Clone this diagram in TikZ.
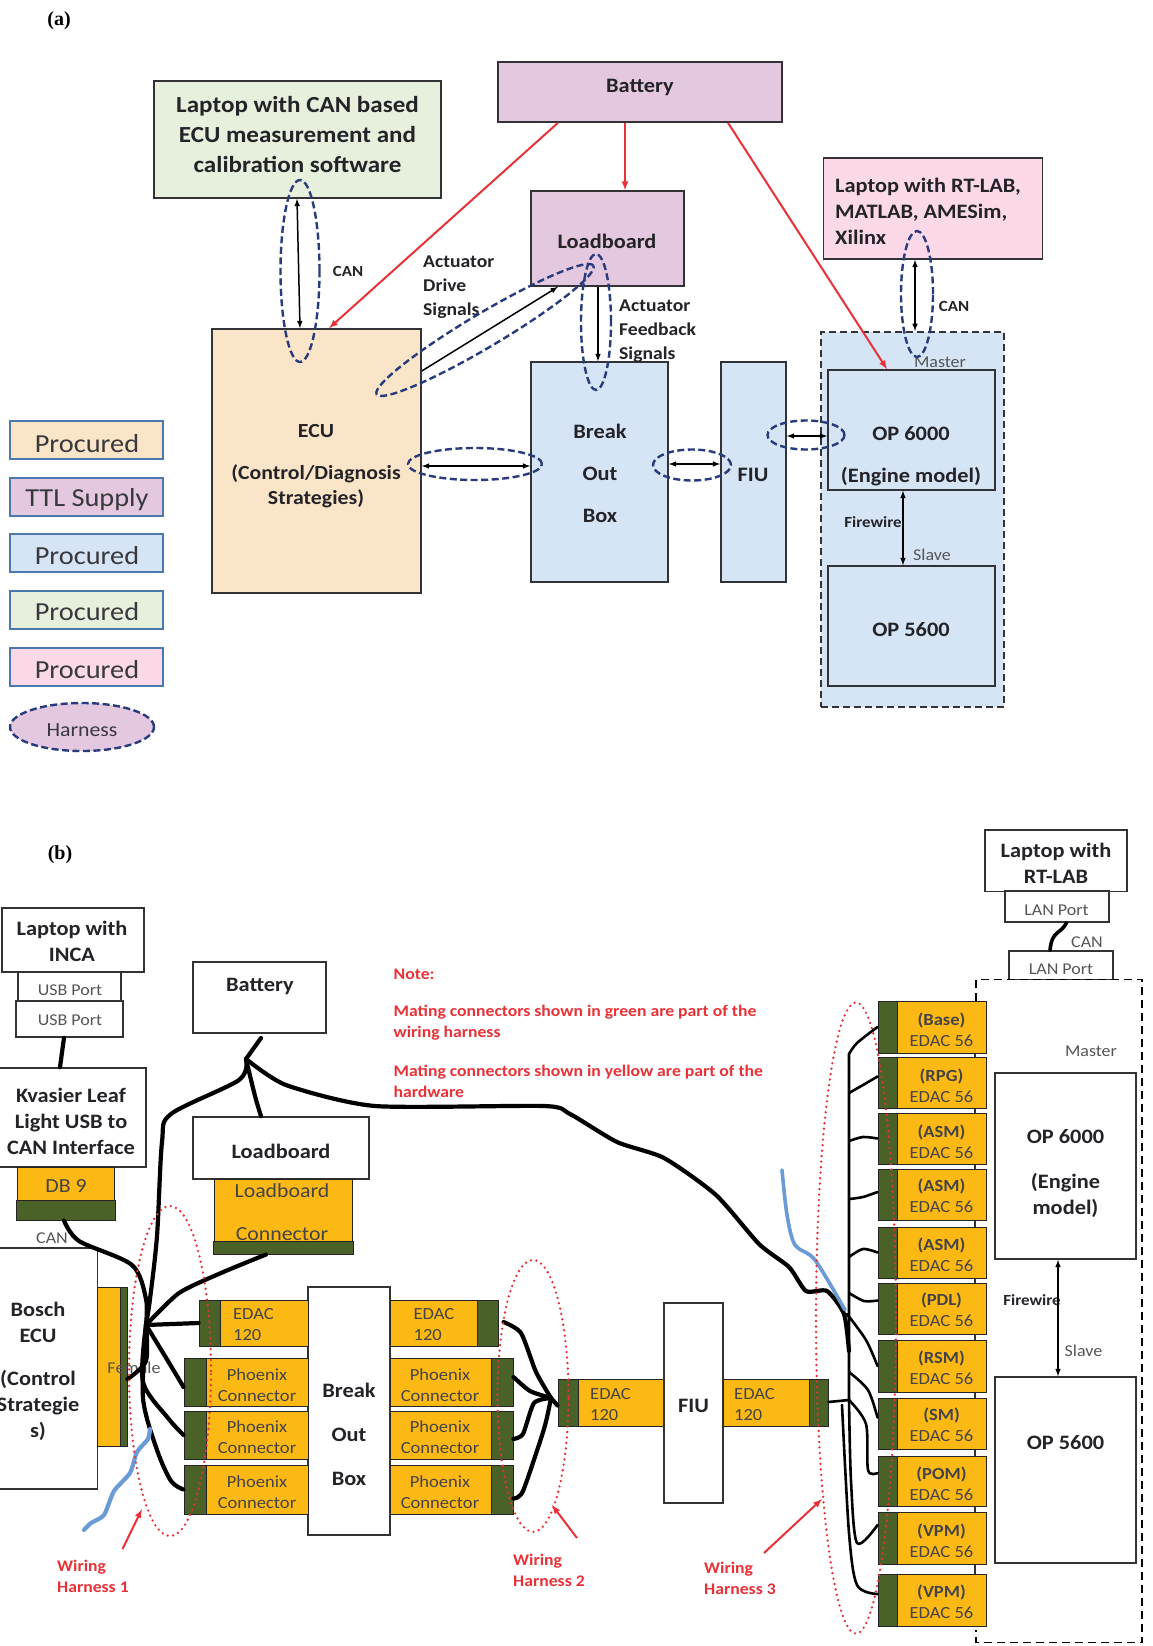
\documentclass[tikz,border=0pt]{standalone}
\usepackage{fontspec}
\setmainfont{Carlito}[FakeStretch=1.09]
\newfontfamily\headfont{Liberation Serif}
\usetikzlibrary{shapes.geometric}
\definecolor{ink}{RGB}{35, 35, 40}
\definecolor{greyink}{RGB}{85, 85, 85}
\definecolor{frame}{RGB}{50, 50, 55}
\definecolor{legframe}{RGB}{75, 120, 175}
\definecolor{orangefill}{RGB}{251, 229, 200}
\definecolor{purplefill}{RGB}{228, 200, 224}
\definecolor{bluefill}{RGB}{213, 229, 245}
\definecolor{greenfill}{RGB}{230, 240, 220}
\definecolor{pinkfill}{RGB}{251, 217, 232}
\definecolor{harnessblue}{RGB}{40, 60, 125}
\definecolor{redline}{RGB}{232, 50, 55}
\definecolor{connyellow}{RGB}{253, 185, 19}
\definecolor{conngreen}{RGB}{74, 97, 39}
\definecolor{bluewire}{RGB}{105, 155, 215}
\tikzset{
  box/.style={draw=frame,line width=1.6pt,inner sep=0pt,align=center},
  legbox/.style={draw=legframe,line width=2pt,inner sep=0pt,minimum width=153,minimum height=38},
  sig/.style={black,line width=1.5pt,<->,>=latex},
  sigone/.style={black,line width=1.5pt,->,>=latex},
  powerline/.style={redline,line width=2pt,->,>=latex},
  harness/.style={draw=harnessblue,line width=2.4pt,dash pattern=on 7pt off 3.5pt,ellipse,inner sep=0pt},
  dotted harness/.style={draw=redline,line width=2.6pt,line cap=round,dash pattern=on 0pt off 5.5pt,ellipse,inner sep=0pt},
  bigbold/.style={inner sep=0pt,align=center,text=ink,font=\bfseries\fontsize{23}{30}\selectfont},
  bold/.style={inner sep=0pt,align=center,text=ink,font=\bfseries\fontsize{20.5}{26}\selectfont},
  smallbold/.style={inner sep=0pt,align=left,text=ink,font=\bfseries\fontsize{18}{24}\selectfont},
  tinybold/.style={inner sep=0pt,text=ink,font=\bfseries\fontsize{15.5}{20}\selectfont},
  plainbig/.style={inner sep=0pt,text=ink!90!white,font=\fontsize{26}{30}\selectfont},
  grey/.style={inner sep=0pt,text=greyink,font=\fontsize{16.5}{21}\selectfont},
  rowtxt/.style={inner sep=0pt,align=center,text=ink!85!white,font=\fontsize{17}{21}\selectfont},
  edactxt/.style={inner sep=0pt,align=left,anchor=west,text=ink!85!white,font=\fontsize{17}{21}\selectfont},
  notetxt/.style={inner sep=0pt,anchor=west,align=left,text=redline,font=\bfseries\fontsize{16.2}{21}\selectfont},
  yel/.style={draw=ink,line width=1pt,fill=connyellow,inner sep=0pt},
  grn/.style={draw=ink,line width=1pt,fill=conngreen,inner sep=0pt},
  wire/.style={black,line width=4.2pt,line join=round,line cap=round},
  thinwire/.style={black,line width=2.6pt,line join=round,line cap=round},
}
\begin{document}
\begin{tikzpicture}[x=1pt,y=-1pt]
\useasboundingbox (0,0) rectangle (1152,1646);
\fill[white] (0,0) rectangle (1152,1646);
\node[font=\headfont\bfseries\fontsize{20}{24}\selectfont] (parta) at (59,21) {(a)};
\node[box,fill=greenfill,minimum width=287,minimum height=117] (lapg) at (297.5,139.5) {};
\node[bigbold] (lapgt) at (297.5,135) {Laptop with CAN based\\ECU measurement and\\calibration software};
\node[box,fill=purplefill,minimum width=284,minimum height=60] (batta) at (640,92) {};
\node[bold] (battat) at (640,87) {Battery};
\node[box,fill=purplefill,minimum width=153,minimum height=95] (loada) at (607.5,238.5) {};
\node[bold] (loadat) at (607,241) {Loadboard};
\node[box,fill=orangefill,minimum width=209,minimum height=264] (ecua) at (316.5,461) {};
\node[bold,font=\bfseries\fontsize{20}{25}\selectfont] (ecuat) at (316,466) {ECU\\[17pt](Control/Diagnosis\\Strategies)};
\node[box,fill=bluefill,minimum width=137,minimum height=220] (boba) at (599.5,472) {};
\node[bold] (bobat) at (600,473) {Break\\[16pt]Out\\[16pt]Box};
\node[box,fill=bluefill,minimum width=65,minimum height=220] (fiua) at (753.5,472) {};
\node[bold] (fiuat) at (753,475) {FIU};
\node[box,fill=bluefill,dash pattern=on 7pt off 4pt,line width=2pt,minimum width=183,minimum height=375] (dasha) at (912.5,519.5) {};
\node[box,fill=bluefill,minimum width=167,minimum height=120] (op6a) at (911.5,430) {};
\node[bold] (op6at) at (911,456) {OP 6000\\[16pt](Engine model)};
\node[box,fill=bluefill,minimum width=167,minimum height=120] (op5a) at (911.5,626) {};
\node[bold] (op5at) at (911,630) {OP 5600};
\node[box,fill=pinkfill,minimum width=219,minimum height=101] (lapp) at (933,208.5) {};
\node[bold,align=left,anchor=west] (lappt) at (835,211) {Laptop with RT-LAB,\\MATLAB, AMESim,\\Xilinx};
\node[tinybold] (cana) at (348,271) {CAN};
\node[tinybold] (canb) at (954,306) {CAN};
\node[tinybold] (firea) at (873,522) {Firewire};
\node[grey] (mastera) at (940,362) {Master};
\node[grey] (slavea) at (932,555) {Slave};
\node[smallbold,anchor=west] (drivet) at (423,287) {Actuator\\Drive\\Signals};
\node[smallbold,anchor=west] (feedt) at (619,331) {Actuator\\Feedback\\Signals};
\draw[powerline] ([xshift=-82]batta.south) -- ([xshift=12.5]ecua.north);
\draw[powerline] ([xshift=-15]batta.south) -- ([xshift=17.5]loada.north);
\draw[powerline] ([xshift=88]batta.south) -- ([xshift=-24.5]op6a.north);
\draw[sig] ([xshift=-0.5]lapg.south) -- ([xshift=-16.5]ecua.north);
\draw[sigone] ([yshift=90]ecua.east) -- ([xshift=-49.5]loada.south);
\draw[sigone] ([xshift=-9.5]loada.south) -- ([xshift=-1.5]boba.north);
\draw[sig] ([yshift=-5]ecua.east) -- ([yshift=6]boba.west);
\draw[sig] ([yshift=8]boba.east) -- ([yshift=8]fiua.west);
\draw[sig] ([yshift=36]fiua.east) -- ([yshift=-6]op6a.west);
\draw[sig] ([xshift=-8.5]op6a.south) -- ([xshift=-8.5]op5a.north);
\draw[sig] ([xshift=-18]lapp.south) -- ([xshift=2.5]dasha.north);
\node[harness,minimum width=39,minimum height=182] (hcan) at (300,271) {};
\node[harness,minimum width=252,minimum height=34,rotate=30.7] (hdrive) at (485,330) {};
\node[harness,minimum width=30,minimum height=136] (hfeed) at (596,322) {};
\node[harness,minimum width=134,minimum height=32] (hecu) at (475,464) {};
\node[harness,minimum width=78,minimum height=31] (hbob) at (692,465) {};
\node[harness,minimum width=77,minimum height=29] (hfiu) at (806,435) {};
\node[harness,minimum width=32,minimum height=126] (hlap) at (917,294) {};
\node[legbox,fill=orangefill] (leg1) at (86.5,439.5) {};
\node[plainbig] (leg1t) at (87,444) {Procured};
\node[legbox,fill=purplefill] (leg2) at (86.5,496.5) {};
\node[plainbig] (leg2t) at (87,500) {TTL Supply};
\node[legbox,fill=bluefill] (leg3) at (86.5,552.5) {};
\node[plainbig] (leg3t) at (87,556) {Procured};
\node[legbox,fill=greenfill] (leg4) at (86.5,609.5) {};
\node[plainbig] (leg4t) at (87,612) {Procured};
\node[legbox,fill=pinkfill] (leg5) at (86.5,666.5) {};
\node[plainbig] (leg5t) at (87,670) {Procured};
\node[harness,fill=purplefill,minimum width=144,minimum height=48] (leg6) at (82,727) {};
\node[inner sep=0pt,text=ink!90!white,font=\fontsize{20}{24}\selectfont] (leg6t) at (82,730) {Harness};
\node[font=\headfont\bfseries\fontsize{20}{24}\selectfont] (partb) at (60,855) {(b)};
\node[box,minimum width=142,minimum height=64] (lapi) at (73,940) {};
\node[bold] (lapit) at (72,941) {Laptop with\\INCA};
\node[box,minimum width=103,minimum height=29] (usba) at (69.5,986.5) {};
\node[grey] (usbat) at (70,990) {USB Port};
\node[box,minimum width=107,minimum height=36] (usbb) at (69.5,1019) {};
\node[grey] (usbbt) at (70,1020) {USB Port};
\node[box,minimum width=148,minimum height=99] (kva) at (72,1117.5) {};
\node[bold] (kvat) at (71,1121) {Kvasier Leaf\\Light USB to\\CAN Interface};
\node[yel,minimum width=97,minimum height=33] (dby) at (65.5,1183.5) {};
\node[rowtxt,font=\fontsize{20}{24}\selectfont] (dbt) at (66,1186) {DB 9};
\node[grn,minimum width=99,minimum height=20] (dbg) at (65.5,1210) {};
\node[grey] (canc) at (52,1238) {CAN};
\node[box,minimum width=99.5,minimum height=241] (bosch) at (47.75,1368.5) {};
\node[bold] (boscht) at (38,1371.5) {Bosch\\ECU\\[17pt](Control\\Strategie\\s)};
\node[yel,minimum width=22.5,minimum height=159] (femy) at (108.75,1366.5) {};
\node[grn,minimum width=7,minimum height=159] (femg) at (123.5,1366.5) {};
\node[grey] (femt) at (134,1368) {Female};
\node[box,minimum width=133,minimum height=71] (batb) at (259.5,997.5) {};
\node[bold] (batbt) at (260,986) {Battery};
\node[box,minimum width=176,minimum height=62] (loadb) at (281,1148) {};
\node[bold] (loadbt) at (281,1151) {Loadboard};
\node[yel,minimum width=138,minimum height=62] (lcony) at (283,1210) {};
\node[grn,minimum width=140,minimum height=13] (lcong) at (283,1247.5) {};
\node[rowtxt,font=\fontsize{20}{24}\selectfont] (lcont) at (282,1212.5) {Loadboard\\[19pt]Connector};
\node[box,minimum width=82,minimum height=248] (bobb) at (349,1411) {};
\node[bold] (bobbt) at (349,1434) {Break\\[18pt]Out\\[18pt]Box};
\node[grn,minimum width=21,minimum height=46] (el1g) at (209.5,1323) {};
\node[yel,minimum width=88,minimum height=46] (el1) at (264,1323) {};
\node[edactxt] (el1t) at (233,1324.5) {EDAC\\120};
\node[yel,minimum width=87,minimum height=46] (er1) at (433.5,1323) {};
\node[grn,minimum width=21,minimum height=46] (er1g) at (487.5,1323) {};
\node[edactxt] (er1t) at (413.5,1324.5) {EDAC\\120};
\node[grn,minimum width=22,minimum height=48] (pl1g) at (195,1382) {};
\node[yel,minimum width=102,minimum height=48] (pl1) at (257,1382) {};
\node[rowtxt] (pl1t) at (257,1385) {Phoenix\\Connector};
\node[grn,minimum width=22,minimum height=48] (pl2g) at (195,1435) {};
\node[yel,minimum width=102,minimum height=48] (pl2) at (257,1435) {};
\node[rowtxt] (pl2t) at (257,1437.5) {Phoenix\\Connector};
\node[grn,minimum width=22,minimum height=49] (pl3g) at (195,1489.5) {};
\node[yel,minimum width=102,minimum height=49] (pl3) at (257,1489.5) {};
\node[rowtxt] (pl3t) at (257,1492.5) {Phoenix\\Connector};
\node[yel,minimum width=101,minimum height=48] (pr1) at (440.5,1382) {};
\node[grn,minimum width=22,minimum height=48] (pr1g) at (502,1382) {};
\node[rowtxt] (pr1t) at (440,1385) {Phoenix\\Connector};
\node[yel,minimum width=101,minimum height=48] (pr2) at (440.5,1435) {};
\node[grn,minimum width=22,minimum height=48] (pr2g) at (502,1435) {};
\node[rowtxt] (pr2t) at (440,1437.5) {Phoenix\\Connector};
\node[yel,minimum width=101,minimum height=49] (pr3) at (440.5,1489.5) {};
\node[grn,minimum width=22,minimum height=49] (pr3g) at (502,1489.5) {};
\node[rowtxt] (pr3t) at (440,1492.5) {Phoenix\\Connector};
\node[grn,minimum width=20,minimum height=47] (em1g) at (568,1402.5) {};
\node[yel,minimum width=86,minimum height=47] (em1) at (621,1402.5) {};
\node[edactxt] (em1t) at (590,1405) {EDAC\\120};
\node[box,minimum width=59,minimum height=200] (fiub) at (693.5,1403) {};
\node[bold] (fiubt) at (693.5,1405.5) {FIU};
\node[yel,minimum width=86,minimum height=47] (em2) at (766,1402.5) {};
\node[grn,minimum width=19,minimum height=47] (em2g) at (818.5,1402.5) {};
\node[edactxt] (em2t) at (734,1405) {EDAC\\120};
\draw[frame,line width=1.5pt] (975,1001) -- (975,1626);
\node[grn,minimum width=19,minimum height=52] (r1g) at (887.5,1027) {};
\node[yel,minimum width=89,minimum height=52] (r1) at (941.5,1027) {};
\node[rowtxt] (r1t) at (941.5,1029.5) {\textbf{(Base)}\\EDAC 56};
\node[grn,minimum width=19,minimum height=51] (r2g) at (887.5,1082.5) {};
\node[yel,minimum width=89,minimum height=51] (r2) at (941.5,1082.5) {};
\node[rowtxt] (r2t) at (941.5,1085.5) {\textbf{(RPG)}\\EDAC 56};
\node[grn,minimum width=19,minimum height=51] (r3g) at (887.5,1138.5) {};
\node[yel,minimum width=89,minimum height=51] (r3) at (941.5,1138.5) {};
\node[rowtxt] (r3t) at (941.5,1141.5) {\textbf{(ASM)}\\EDAC 56};
\node[grn,minimum width=19,minimum height=51] (r4g) at (887.5,1194.5) {};
\node[yel,minimum width=89,minimum height=51] (r4) at (941.5,1194.5) {};
\node[rowtxt] (r4t) at (941.5,1196) {\textbf{(ASM)}\\EDAC 56};
\node[grn,minimum width=19,minimum height=51] (r5g) at (887.5,1252.5) {};
\node[yel,minimum width=89,minimum height=51] (r5) at (941.5,1252.5) {};
\node[rowtxt] (r5t) at (941.5,1255) {\textbf{(ASM)}\\EDAC 56};
\node[grn,minimum width=19,minimum height=51] (r6g) at (887.5,1308.5) {};
\node[yel,minimum width=89,minimum height=51] (r6) at (941.5,1308.5) {};
\node[rowtxt] (r6t) at (941.5,1310) {\textbf{(PDL)}\\EDAC 56};
\node[grn,minimum width=19,minimum height=52] (r7g) at (887.5,1366) {};
\node[yel,minimum width=89,minimum height=52] (r7) at (941.5,1366) {};
\node[rowtxt] (r7t) at (941.5,1367.5) {\textbf{(RSM)}\\EDAC 56};
\node[grn,minimum width=19,minimum height=51] (r8g) at (887.5,1423.5) {};
\node[yel,minimum width=89,minimum height=51] (r8) at (941.5,1423.5) {};
\node[rowtxt] (r8t) at (941.5,1425) {\textbf{(SM)}\\EDAC 56};
\node[grn,minimum width=19,minimum height=50] (r9g) at (887.5,1481) {};
\node[yel,minimum width=89,minimum height=50] (r9) at (941.5,1481) {};
\node[rowtxt] (r9t) at (941.5,1484) {\textbf{(POM)}\\EDAC 56};
\node[grn,minimum width=19,minimum height=52] (r10g) at (887.5,1538) {};
\node[yel,minimum width=89,minimum height=52] (r10) at (941.5,1538) {};
\node[rowtxt] (r10t) at (941.5,1541) {\textbf{(VPM)}\\EDAC 56};
\node[grn,minimum width=19,minimum height=52] (r11g) at (887.5,1600) {};
\node[yel,minimum width=89,minimum height=52] (r11) at (941.5,1600) {};
\node[rowtxt] (r11t) at (941.5,1602) {\textbf{(VPM)}\\EDAC 56};
\node[box,minimum width=142,minimum height=61.5] (laprt) at (1056,860.75) {};
\node[bold] (laprtt) at (1056,863) {Laptop with\\RT-LAB};
\node[box,minimum width=104,minimum height=31] (lana) at (1057,906.5) {};
\node[grey] (lanat) at (1056.5,910) {LAN Port};
\node[box,minimum width=104,minimum height=28.5] (lanb) at (1061,965.25) {};
\node[grey] (lanbt) at (1061,969) {LAN Port};
\node[grey] (cand) at (1087,942.5) {CAN};
\draw[black,line width=1.8pt,dash pattern=on 8pt off 5pt] (976,1001) -- (976,979.5) -- (1142,979.5) -- (1142,1642.5) -- (976,1642.5) -- (976,1630);
\node[grey] (masterb) at (1091,1051) {Master};
\node[box,minimum width=141,minimum height=186] (op6b) at (1065.5,1166) {};
\node[bold] (op6bt) at (1065.5,1174) {OP 6000\\[19pt](Engine\\model)};
\node[box,minimum width=141,minimum height=186] (op5b) at (1065.5,1470) {};
\node[bold] (op5bt) at (1065.5,1443) {OP 5600};
\node[tinybold] (fireb) at (1032,1300) {Firewire};
\node[grey] (slaveb) at (1083.5,1351) {Slave};
\draw[sig] ([xshift=-7.5]op6b.south) -- ([xshift=-7.5]op5b.north);
\node[notetxt] (note1) at (393.5,974) {Note:};
\node[notetxt] (note2) at (393.5,1022.5) {Mating connectors shown in green are part of the\\wiring harness};
\node[notetxt] (note3) at (393.5,1081.5) {Mating connectors shown in yellow are part of the\\hardware};
\node[notetxt] (wh1) at (57,1576.5) {Wiring\\Harness 1};
\node[notetxt] (wh2) at (513,1570.5) {Wiring\\Harness 2};
\node[notetxt] (wh3) at (704,1578.5) {Wiring\\Harness 3};
\coordinate (hubb) at (146,1325);
\coordinate (batjoin) at (246,1059);
\coordinate (batstub) at (261,1038);
\coordinate (hubc) at (551,1398);
\coordinate (busend) at (849,1400);
\coordinate (bustop) at (849,1054);
\draw[wire] ([xshift=-5.5]usbb.south) -- ([xshift=-12]kva.north);
\draw[wire] (batstub) -- (batjoin);
\draw[wire] plot[smooth,tension=0.5] coordinates {(batjoin) (255,1096) ([xshift=-20]loadb.north)};
\draw[wire] plot[smooth,tension=0.5] coordinates {(batjoin) (239,1080) (171,1114) (162,1142) (157,1236) (150,1299) (hubb)};
\draw[wire] plot[smooth,tension=0.4] coordinates {(batjoin) (286,1085) (375,1106) (544,1106) (570,1114) (617,1142) (664,1158) (716,1195) (759,1244) (789,1267) (806,1291) (827,1291) (844,1314) (849,1351)};
\draw[wire] plot[smooth,tension=0.5] coordinates {([xshift=-1.5]dbg.south) (79,1241) (132,1265) (146,1299) (hubb)};
\draw[wire] plot[smooth,tension=0.4] coordinates {([xshift=-17]lcong.south) (221,1273) (179,1293) (hubb)};
\draw[wire] (hubb) -- (el1g.west);
\draw[wire] plot[smooth,tension=0.5] coordinates {(hubb) (168,1361) ([yshift=-5]pl1g.west)};
\draw[wire] plot[smooth,tension=0.5] coordinates {(hubb) (143,1382) (168,1418) (pl2g.west)};
\draw[wire] plot[smooth,tension=0.5] coordinates {(hubb) (143,1398) (157,1450) (171,1481) (pl3g.west)};
\draw[wire] plot[smooth,tension=0.5] coordinates {([yshift=-12.5]femg.east) (146,1361) (hubb)};
\draw[bluewire,line width=4.2pt,line join=round,line cap=round] plot[smooth,tension=0.4] coordinates {(84,1530) (91,1523) (104,1515) (114,1491) (130,1473) (137,1452) (148,1439) (150,1429)};
\draw[wire] plot[smooth,tension=0.4] coordinates {(503.5,1322) (521,1333) (536,1372) (hubc)};
\draw[wire] plot[smooth,tension=0.4] coordinates {([yshift=5]pr1g.east) (530,1391) (hubc)};
\draw[wire] plot[smooth,tension=0.4] coordinates {([yshift=-4]pr2g.east) (523,1434) (534,1403) (hubc)};
\draw[wire] plot[smooth,tension=0.4] coordinates {([yshift=-9]pr3g.east) (523,1491) (544,1429) (hubc)};
\draw[wire] (hubc) -- ([yshift=-3]em1g.west);
\draw[thinwire] ([yshift=0.5]em2g.east) -- (busend);
\draw[thinwire] plot[smooth,tension=0.5] coordinates {(r1g.west) (857,1043) (bustop)} -- (busend);
\draw[thinwire] plot[smooth,tension=0.5] coordinates {(849,1093) (863,1085) ([yshift=6]r2g.west)};
\draw[thinwire] plot[smooth,tension=0.5] coordinates {(849,1141) (863,1137) (r3g.west)};
\draw[thinwire] plot[smooth,tension=0.5] coordinates {(849,1199) (863,1197) ([yshift=2.5]r4g.west)};
\draw[thinwire] plot[smooth,tension=0.5] coordinates {(849,1257) (863,1249) (r5g.west)};
\draw[thinwire] plot[smooth,tension=0.5] coordinates {(849,1293) (864,1301) ([yshift=8]r6g.west)};
\draw[thinwire] plot[smooth,tension=0.5] coordinates {(847,1314) (866,1340) (r7g.west)};
\draw[thinwire] plot[smooth,tension=0.5] coordinates {(849,1372) (868,1390) ([yshift=6]r8g.west)};
\draw[thinwire] plot[smooth,tension=0.5] coordinates {(busend) (866,1424) (868,1470) ([yshift=8]r9g.west)};
\draw[thinwire] plot[smooth,tension=0.5] coordinates {(busend) (851,1481) (857,1543) ([yshift=13]r10g.west)};
\draw[thinwire] plot[smooth,tension=0.5] coordinates {(842,1405) (849,1533) (857,1585) ([yshift=6]r11g.west)};
\draw[bluewire,line width=3.6pt,line join=round,line cap=round] plot[smooth,tension=0.5] coordinates {(782,1170) (787,1215) (795,1245) (815,1260) (845,1310)};
\node[dotted harness,minimum width=82,minimum height=330] (wh1e) at (170,1371) {};
\node[dotted harness,minimum width=71,minimum height=272] (wh2e) at (533,1396) {};
\node[dotted harness,minimum width=80,minimum height=631] (wh3e) at (856,1318) {};
\coordinate (wh1tail) at (122.5,1549);
\coordinate (wh1tip) at (142,1509);
\coordinate (wh2tail) at (577,1538);
\coordinate (wh2tip) at (552,1505);
\coordinate (wh3tail) at (764,1553);
\coordinate (wh3tip) at (822,1499);
\draw[powerline] (wh1tail) -- (wh1tip);
\draw[powerline] (wh2tail) -- (wh2tip);
\draw[powerline] (wh3tail) -- (wh3tip);
\draw[wire,line width=3.6pt] ([xshift=9.5]lana.south) .. controls (1060,935) and (1052,930) .. ([xshift=-11]lanb.north);
\end{tikzpicture}
\end{document}
